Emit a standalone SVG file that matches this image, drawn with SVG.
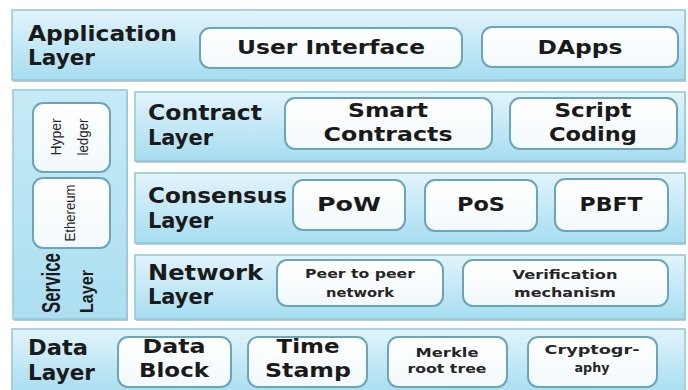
<svg xmlns="http://www.w3.org/2000/svg" width="688" height="390" viewBox="0 0 688 390">
<defs>
<linearGradient id="band" x1="0" y1="0" x2="0" y2="1">
<stop offset="0" stop-color="#e2f4fb"/>
<stop offset="1" stop-color="#a6ddf0"/>
</linearGradient>
<linearGradient id="col" x1="0" y1="0" x2="0" y2="1">
<stop offset="0" stop-color="#c6eaf6"/>
<stop offset="1" stop-color="#acdff1"/>
</linearGradient>
<linearGradient id="box" x1="0" y1="0" x2="0" y2="1">
<stop offset="0" stop-color="#ffffff"/>
<stop offset="1" stop-color="#f2f9fc"/>
</linearGradient>
<style>
.band{fill:url(#band);stroke:#8fc7da;stroke-width:1.5}
.col{fill:url(#col);stroke:#8fc7da;stroke-width:1.5}
.shadow{fill:#b8cdd4}
.box{fill:url(#box);stroke:#6aa6b8;stroke-width:2}
.lbl{font-family:"DejaVu Sans","Verdana",sans-serif;font-weight:bold;font-size:21px;fill:#1a1a1a}
.bt{font-family:"DejaVu Sans","Verdana",sans-serif;font-weight:bold;font-size:19px;fill:#1a1a1a;text-anchor:middle}
.st{font-family:"DejaVu Sans","Verdana",sans-serif;font-weight:bold;font-size:13px;fill:#262626;text-anchor:middle}
.vt{font-family:"Liberation Sans",Arial,sans-serif;font-size:15px;fill:#262626;text-anchor:middle}
.vl{font-family:"Liberation Sans",Arial,sans-serif;font-weight:bold;fill:#1a1a1a}
</style>
</defs>
<rect width="688" height="390" fill="#ffffff"/>

<g id="application-layer">
<rect class="shadow" x="13" y="12" width="673" height="70"/>
<rect class="band" x="12" y="10" width="673" height="70"/>
<text class="lbl" x="28" y="41" textLength="149" lengthAdjust="spacingAndGlyphs">Application</text>
<text class="lbl" x="28" y="65" textLength="67" lengthAdjust="spacingAndGlyphs">Layer</text>
</g>
<g id="user-interface">
<rect class="box" x="200" y="28" width="262" height="40" rx="10"/>
<text class="bt" x="331" y="54" textLength="188" lengthAdjust="spacingAndGlyphs">User Interface</text>
</g>
<g id="dapps">
<rect class="box" x="482" y="27" width="196" height="40" rx="10"/>
<text class="bt" x="580" y="54" textLength="85" lengthAdjust="spacingAndGlyphs">DApps</text>
</g>

<g id="service-layer">
<rect class="shadow" x="14" y="92" width="114" height="229"/>
<rect class="col" x="13" y="90" width="114" height="229"/>
<text class="vl" font-size="26" transform="translate(60,313) rotate(-90)" textLength="60" lengthAdjust="spacingAndGlyphs">Service</text>
<text class="vl" font-size="19" transform="translate(93,313) rotate(-90)" textLength="43" lengthAdjust="spacingAndGlyphs">Layer</text>
</g>
<g id="hyperledger">
<rect class="box" x="33" y="103" width="77" height="69" rx="10"/>
<text class="vt" transform="translate(61,137) rotate(-90)" textLength="37" lengthAdjust="spacingAndGlyphs">Hyper</text>
<text class="vt" transform="translate(88,137) rotate(-90)" textLength="37" lengthAdjust="spacingAndGlyphs">ledger</text>
</g>
<g id="ethereum">
<rect class="box" x="33" y="178" width="77" height="70" rx="10"/>
<text class="vt" transform="translate(75,213) rotate(-90)" textLength="57" lengthAdjust="spacingAndGlyphs">Ethereum</text>
</g>

<g id="contract-layer">
<rect class="shadow" x="136" y="94" width="550" height="69"/>
<rect class="band" x="135" y="92" width="550" height="69"/>
<text class="lbl" x="148" y="120" textLength="114" lengthAdjust="spacingAndGlyphs">Contract</text>
<text class="lbl" x="148" y="145" textLength="65" lengthAdjust="spacingAndGlyphs">Layer</text>
</g>
<g id="smart-contracts">
<rect class="box" x="285" y="98" width="207" height="51" rx="10"/>
<text class="bt" x="388" y="117" textLength="80" lengthAdjust="spacingAndGlyphs">Smart</text>
<text class="bt" x="388" y="141" textLength="129" lengthAdjust="spacingAndGlyphs">Contracts</text>
</g>
<g id="script-coding">
<rect class="box" x="510" y="98" width="167" height="51" rx="10"/>
<text class="bt" x="593" y="117" textLength="77" lengthAdjust="spacingAndGlyphs">Script</text>
<text class="bt" x="593" y="141" textLength="88" lengthAdjust="spacingAndGlyphs">Coding</text>
</g>

<g id="consensus-layer">
<rect class="shadow" x="136" y="175" width="550" height="70"/>
<rect class="band" x="135" y="173" width="550" height="70"/>
<text class="lbl" x="148" y="203" textLength="139" lengthAdjust="spacingAndGlyphs">Consensus</text>
<text class="lbl" x="148" y="228" textLength="65" lengthAdjust="spacingAndGlyphs">Layer</text>
</g>
<g id="pow">
<rect class="box" x="293" y="180" width="112" height="50" rx="10"/>
<text class="bt" x="349" y="211" textLength="64" lengthAdjust="spacingAndGlyphs">PoW</text>
</g>
<g id="pos">
<rect class="box" x="425" y="180" width="112" height="51" rx="10"/>
<text class="bt" x="481" y="211" textLength="48" lengthAdjust="spacingAndGlyphs">PoS</text>
</g>
<g id="pbft">
<rect class="box" x="555" y="179" width="113" height="52" rx="10"/>
<text class="bt" x="611" y="211" textLength="63" lengthAdjust="spacingAndGlyphs">PBFT</text>
</g>

<g id="network-layer">
<rect class="shadow" x="136" y="257" width="550" height="64"/>
<rect class="band" x="135" y="255" width="550" height="64"/>
<text class="lbl" x="148" y="280" textLength="115" lengthAdjust="spacingAndGlyphs">Network</text>
<text class="lbl" x="148" y="304" textLength="65" lengthAdjust="spacingAndGlyphs">Layer</text>
</g>
<g id="peer-to-peer">
<rect class="box" x="277" y="260" width="166" height="46" rx="10"/>
<text class="st" x="360" y="278" textLength="110" lengthAdjust="spacingAndGlyphs">Peer to peer</text>
<text class="st" x="360" y="297" textLength="68" lengthAdjust="spacingAndGlyphs">network</text>
</g>
<g id="verification">
<rect class="box" x="463" y="260" width="205" height="46" rx="10"/>
<text class="st" x="565" y="279" textLength="105" lengthAdjust="spacingAndGlyphs">Verification</text>
<text class="st" x="565" y="297" textLength="102" lengthAdjust="spacingAndGlyphs">mechanism</text>
</g>

<g id="data-layer">
<rect class="band" x="12" y="329" width="673" height="66"/>
<text class="lbl" x="28" y="355" textLength="60" lengthAdjust="spacingAndGlyphs">Data</text>
<text class="lbl" x="28" y="380" textLength="67" lengthAdjust="spacingAndGlyphs">Layer</text>
</g>
<g id="data-block">
<rect class="box" x="118" y="337" width="113" height="50" rx="10"/>
<text class="bt" x="174" y="353" textLength="63" lengthAdjust="spacingAndGlyphs">Data</text>
<text class="bt" x="174" y="377" textLength="70" lengthAdjust="spacingAndGlyphs">Block</text>
</g>
<g id="time-stamp">
<rect class="box" x="248" y="337" width="119" height="50" rx="10"/>
<text class="bt" x="308" y="353" textLength="63" lengthAdjust="spacingAndGlyphs">Time</text>
<text class="bt" x="308" y="377" textLength="86" lengthAdjust="spacingAndGlyphs">Stamp</text>
</g>
<g id="merkle">
<rect class="box" x="388" y="337" width="119" height="50" rx="10"/>
<text class="st" x="447" y="357" textLength="63" lengthAdjust="spacingAndGlyphs">Merkle</text>
<text class="st" x="447" y="373" textLength="79" lengthAdjust="spacingAndGlyphs">root tree</text>
</g>
<g id="cryptography">
<rect class="box" x="528" y="337" width="129" height="50" rx="10"/>
<text class="st" x="592" y="354" textLength="95" lengthAdjust="spacingAndGlyphs">Cryptogr-</text>
<text class="st" x="592" y="372" textLength="35" lengthAdjust="spacingAndGlyphs">aphy</text>
</g>

<g id="connectors"/>
</svg>
